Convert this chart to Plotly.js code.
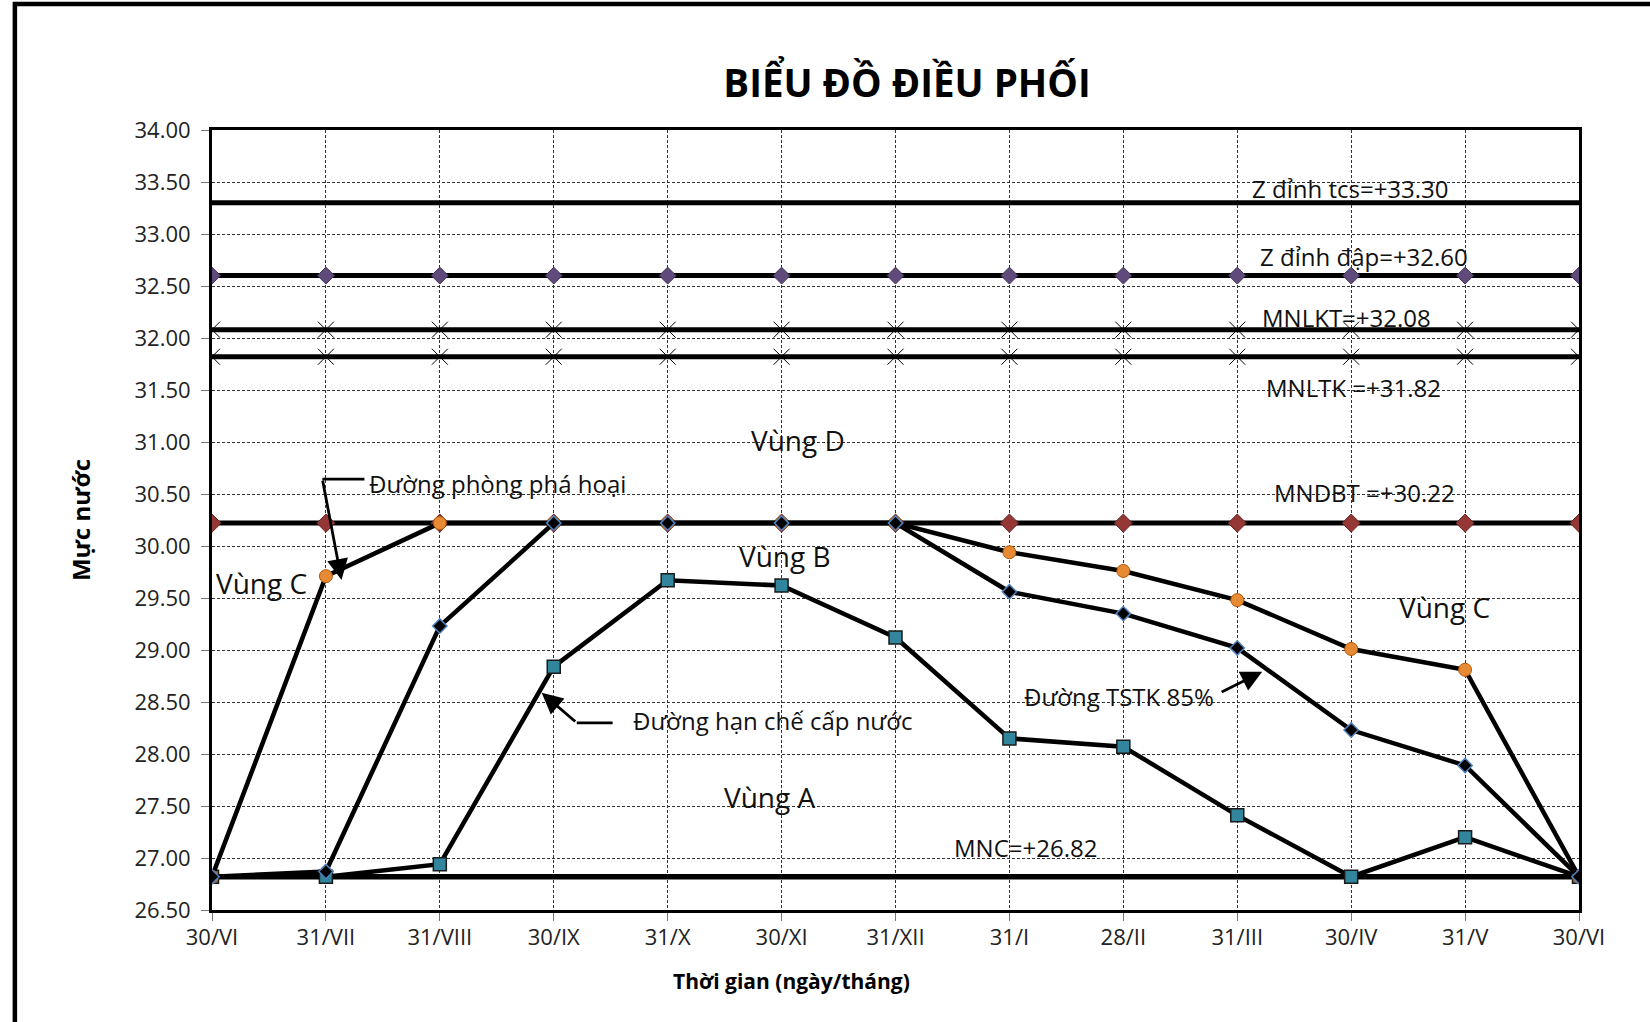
<!DOCTYPE html>
<html>
<head>
<meta charset="utf-8">
<script src="https://cdn.plot.ly/plotly-3.0.1.min.js"></script>
<style>
  html, body { margin: 0; padding: 0; background: #fff; }
  #chart { width: 1650px; height: 1022px; }
</style>
</head>
<body>
<div id="chart"></div>
<script>
// ---- Data ----
const categories = ['30/VI','31/VII','31/VIII','30/IX','31/X','30/XI','31/XII','31/I','28/II','31/III','30/IV','31/V','30/VI'];
const xIndex = [0,1,2,3,4,5,6,7,8,9,10,11,12];

const zDinhTcs = [33.30,33.30,33.30,33.30,33.30,33.30,33.30,33.30,33.30,33.30,33.30,33.30,33.30];
const zDinhDap = [32.60,32.60,32.60,32.60,32.60,32.60,32.60,32.60,32.60,32.60,32.60,32.60,32.60];
const mnlkt    = [32.08,32.08,32.08,32.08,32.08,32.08,32.08,32.08,32.08,32.08,32.08,32.08,32.08];
const mnltk    = [31.82,31.82,31.82,31.82,31.82,31.82,31.82,31.82,31.82,31.82,31.82,31.82,31.82];
const mndbt    = [30.22,30.22,30.22,30.22,30.22,30.22,30.22,30.22,30.22,30.22,30.22,30.22,30.22];
const mnc      = [26.82,26.82,26.82,26.82,26.82,26.82,26.82,26.82,26.82,26.82,26.82,26.82,26.82];

// Đường phòng phá hoại (orange circles)
const duongPhaHoai = [26.82,29.71,30.22,30.22,30.22,30.22,30.22,29.94,29.76,29.48,29.01,28.81,26.82];
// Đường TSTK 85% (black diamonds)
const duongTSTK = [26.82,26.87,29.23,30.22,30.22,30.22,30.22,29.56,29.35,29.02,28.23,27.89,26.82];
// Đường hạn chế cấp nước (teal squares)
const duongHanChe = [26.82,26.82,26.94,28.84,29.67,29.62,29.12,28.15,28.07,27.41,26.82,27.20,26.82];

const yTicks = [26.5,27,27.5,28,28.5,29,29.5,30,30.5,31,31.5,32,32.5,33,33.5,34];

// ---- Traces ----
const traces = [
  {x: xIndex, y: zDinhTcs, mode: 'lines', line: {color: '#000', width: 5}, name: 'Z đỉnh tcs'},
  {x: xIndex, y: zDinhDap, mode: 'lines+markers', line: {color: '#000', width: 5},
   marker: {symbol: 'diamond', size: 13, color: '#604A7B', line: {color: '#3F3151', width: 1}}, name: 'Z đỉnh đập'},
  {x: xIndex, y: mnlkt, mode: 'lines+markers', line: {color: '#000', width: 5},
   marker: {symbol: 'x-thin-open', size: 16, line: {color: '#8a8a8a', width: 1}}, name: 'MNLKT'},
  {x: xIndex, y: mnltk, mode: 'lines+markers', line: {color: '#000', width: 5},
   marker: {symbol: 'x-thin-open', size: 16, line: {color: '#8a8a8a', width: 1}}, name: 'MNLTK'},
  {x: xIndex, y: mndbt, mode: 'lines+markers', line: {color: '#000', width: 5},
   marker: {symbol: 'diamond', size: 14, color: '#953735', line: {color: '#632523', width: 1}}, name: 'MNDBT'},
  {x: xIndex, y: mnc, mode: 'lines', line: {color: '#000', width: 5.5}, name: 'MNC'},
  {x: xIndex, y: duongHanChe, mode: 'lines+markers', line: {color: '#000', width: 4.5},
   marker: {symbol: 'square', size: 13, color: '#31859C', line: {color: '#1a1a1a', width: 1.5}}, name: 'Đường hạn chế cấp nước'},
  {x: xIndex, y: duongPhaHoai, mode: 'lines+markers', line: {color: '#000', width: 4.5},
   marker: {symbol: 'circle', size: 13, color: '#E68A34', line: {color: '#B65708', width: 1}}, name: 'Đường phòng phá hoại'},
  {x: xIndex, y: duongTSTK, mode: 'lines+markers', line: {color: '#000', width: 4.5},
   marker: {symbol: 'diamond', size: 11, color: '#000', line: {color: '#4F81BD', width: 1.5}}, name: 'Đường TSTK 85%'}
];

const txtFont = {family: 'Open Sans, sans-serif', size: 24, color: '#111'};
const zoneFont = {family: 'Open Sans, sans-serif', size: 28, color: '#111'};

function label(x, y, text, font, xanchor) {
  return {x: x, y: y, xref: 'x', yref: 'y', text: text, showarrow: false,
          font: font, xanchor: xanchor || 'center', yanchor: 'middle'};
}
function arrow(x0, y0, x1, y1) {
  return {x: x1, y: y1, ax: x0, ay: y0, xref: 'x', yref: 'y', axref: 'x', ayref: 'y',
          text: '', showarrow: true, arrowhead: 2, arrowsize: 1.5, arrowwidth: 2.8,
          arrowcolor: '#000', standoff: 0, startstandoff: 0};
}

const annotations = [
  label(9.99, 33.437, 'Z đỉnh tcs=+33.30', txtFont),
  label(10.11, 32.784, 'Z đỉnh đập=+32.60', txtFont),
  label(9.96, 32.198, 'MNLKT=+32.08', txtFont),
  label(10.02, 31.526, 'MNLTK =+31.82', txtFont),
  label(10.12, 30.517, 'MNDBT =+30.22', txtFont),
  label(7.14, 27.10, 'MNC=+26.82', txtFont),
  label(5.14, 31.017, 'Vùng D', zoneFont),
  label(5.03, 29.903, 'Vùng B', zoneFont),
  label(0.434, 29.644, 'Vùng C', zoneFont),
  label(10.82, 29.41, 'Vùng C', zoneFont),
  label(4.90, 27.59, 'Vùng A', zoneFont),
  label(1.357, 30.604, 'Đường phòng phá hoại', txtFont, 'left'),
  label(3.676, 28.32, 'Đường hạn chế cấp nước', txtFont, 'left'),
  label(7.963, 28.55, 'Đường TSTK 85%', txtFont),
  arrow(0.969, 30.643, 1.137, 29.673),
  arrow(3.202, 28.30, 2.894, 28.588),
  arrow(8.850, 28.588, 9.219, 28.79),
  {x: 0.4236, y: -0.091, xref: 'paper', yref: 'paper', text: '<b>Thời gian (ngày/tháng)</b>',
   showarrow: false, xanchor: 'center', yanchor: 'middle',
   font: {family: 'Open Sans, sans-serif', size: 21, color: '#000'}}
];

const shapes = [
  {type: 'line', xref: 'x', yref: 'y', x0: 0.969, y0: 30.643, x1: 1.338, y1: 30.643, line: {color: '#000', width: 2.8}},
  {type: 'line', xref: 'x', yref: 'y', x0: 3.517, y0: 28.30, x1: 3.202, y1: 28.30, line: {color: '#000', width: 2.8}},
  // outer chart frame
  {type: 'rect', xref: 'paper', yref: 'paper', x0: -0.1442, y0: -0.16, x1: 1.07, y1: 1.1615,
   line: {color: '#000', width: 4.5}, layer: 'below'}
];

const axisFont = {family: 'Open Sans, sans-serif', size: 22, color: '#222'};

const layout = {
  width: 1650, height: 1022,
  margin: {l: 212, r: 71, t: 130, b: 112, pad: 0},
  paper_bgcolor: '#fff', plot_bgcolor: '#fff',
  showlegend: false,
  title: {text: '<b>BIỂU ĐỒ ĐIỀU PHỐI</b>', x: 0.5497, xanchor: 'center', y: 0.918, yanchor: 'middle',
          font: {family: 'Open Sans, sans-serif', size: 38.5, color: '#000'}},
  xaxis: {
    range: [0, 12], tickvals: xIndex, ticktext: categories,
    showgrid: true, gridcolor: '#333', gridwidth: 1, griddash: '3px,2px',
    zeroline: false, showline: true, linecolor: '#000', linewidth: 3, mirror: true,
    ticks: 'outside', ticklen: 8, tickcolor: '#777', tickwidth: 1,
    tickfont: axisFont, ticklabelstandoff: -2,
    automargin: false, fixedrange: true
  },
  yaxis: {
    range: [26.5, 34], tickvals: yTicks, tickformat: '.2f',
    showgrid: true, gridcolor: '#333', gridwidth: 1, griddash: '3px,2px',
    zeroline: false, showline: true, linecolor: '#000', linewidth: 3, mirror: true,
    ticks: 'outside', ticklen: 8, tickcolor: '#777', tickwidth: 1,
    tickfont: axisFont, ticklabelstandoff: 6,
    title: {text: '<b>Mực nước</b>', standoff: 38,
            font: {family: 'Open Sans, sans-serif', size: 24, color: '#000'}},
    automargin: false, fixedrange: true
  },
  annotations: annotations,
  shapes: shapes
};

Plotly.newPlot('chart', traces, layout, {displayModeBar: false, staticPlot: true});
</script>
</body>
</html>
